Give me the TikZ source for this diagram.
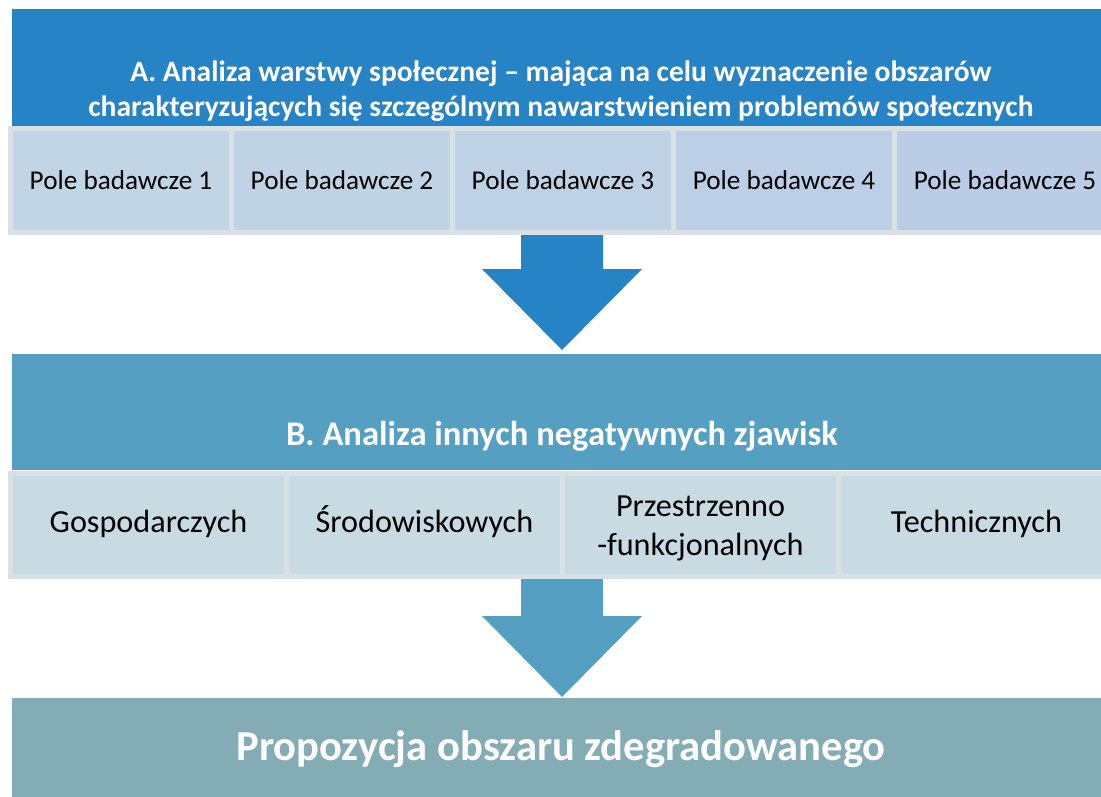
\documentclass[tikz,border=0pt]{standalone}
\usepackage{fontspec}
\setmainfont{Carlito}
\usetikzlibrary{positioning}

\definecolor{topblue}{HTML}{2683C6}
\definecolor{midblue}{HTML}{559FC3}
\definecolor{lowgray}{HTML}{84ACB4}
\definecolor{cellA}{HTML}{C1D5E5}
\definecolor{cellAend}{HTML}{BBCDE6}
\definecolor{cellB}{HTML}{C8DAE2}
\definecolor{cellline}{HTML}{D8E1E6}

\begin{document}
\begin{tikzpicture}[x=1pt,y=-1pt,
    band/.style = {rectangle, inner sep=0pt, outer sep=0pt,
        anchor=north west, minimum width=1100pt},
    head/.style = {text=white, font=\bfseries, align=center, inner sep=0pt},
    cella/.style = {rectangle, draw=cellline, line width=5pt, outer sep=0pt,
        inner sep=0pt, minimum width=221pt, minimum height=104pt,
        align=center, font=\fontsize{27.2}{32}\selectfont},
    cellb/.style = {rectangle, draw=cellline, line width=5pt, outer sep=0pt,
        inner sep=0pt, minimum width=276pt, minimum height=103pt,
        align=center, fill=cellB, font=\fontsize{32.2}{39}\selectfont}]

\useasboundingbox (0,0) rectangle (1101,796);
\clip (0,0) rectangle (1101,796);

% Bands
\node[band,fill=topblue,minimum height=117pt] (boxA) at (12,9) {};
\node[band,fill=midblue,minimum height=116pt] (boxB) at (12,354) {};
\node[band,fill=lowgray,minimum height=110pt] (boxC) at (12,698) {};

% Band titles
\node[head,font=\bfseries\fontsize{29.5}{35}\selectfont] (titleA) at (561,91)
    {A. Analiza warstwy społecznej – mająca na celu wyznaczenie obszarów\\
     charakteryzujących się szczególnym nawarstwieniem problemów społecznych};
\node[head,font=\bfseries\fontsize{34.6}{41}\selectfont] (titleB) at (562,436)
    {B. Analiza innych negatywnych zjawisk};
\node[head,font=\bfseries\fontsize{42.6}{50}\selectfont] (titleC) at (561,749)
    {Propozycja obszaru zdegradowanego};

% Arrows
\coordinate (tipA) at (562,350);
\coordinate (tipB) at (562,697);
\fill[topblue] (tipA) -- ++(-80,-81) -- ++(39,0) -- ++(0,-60) -- ++(82,0)
    -- ++(0,60) -- ++(39,0) -- cycle;
\fill[midblue] (tipB) -- ++(-80,-81) -- ++(39,0) -- ++(0,-60) -- ++(82,0)
    -- ++(0,60) -- ++(39,0) -- cycle;

% Research fields
\node[cella,anchor=north west,fill=cellA] (pa1) at (10.5,128.5) {Pole badawcze 1};
\node[cella,right=0pt of pa1,fill=cellAend!20!cellA] (pa2) {Pole badawcze 2};
\node[cella,right=0pt of pa2,fill=cellAend!40!cellA] (pa3) {Pole badawcze 3};
\node[cella,right=0pt of pa3,fill=cellAend!70!cellA] (pa4) {Pole badawcze 4};
\node[cella,right=0pt of pa4,fill=cellAend] (pa5) {Pole badawcze 5};

% Other phenomena
\node[cellb,anchor=north west] (pb1) at (10.5,473.5) {\strut Gospodarczych};
\node[cellb,right=0pt of pb1] (pb2) {\strut Środowiskowych};
\node[cellb,right=0pt of pb2] (pb3) {\strut Przestrzenno\\-funkcjonalnych};
\node[cellb,right=0pt of pb3] (pb4) {\strut Technicznych};
\end{tikzpicture}
\end{document}
